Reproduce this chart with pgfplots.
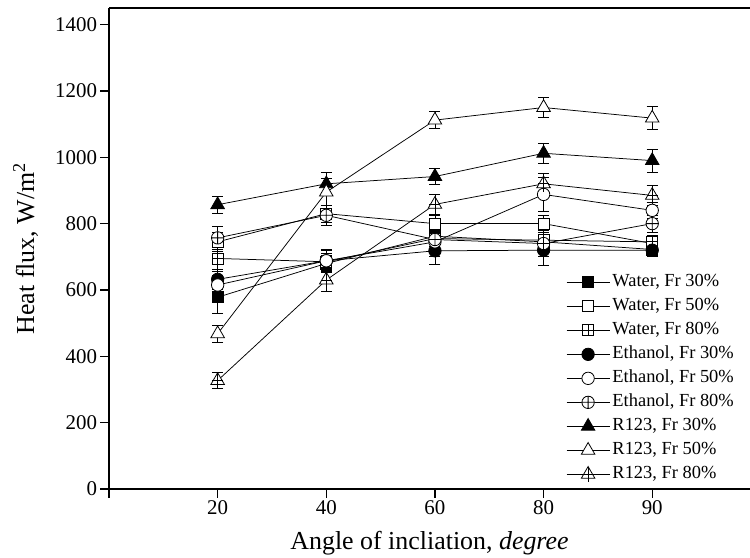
\documentclass[border=0pt]{standalone}
\usepackage{fontspec}
\setmainfont{Liberation Serif}
\usepackage{pgfplots}
\pgfplotsset{compat=1.18}

\pgfdeclareplotmark{sqplus}{%
  \pgfpathrectangle{\pgfpoint{-\pgfplotmarksize}{-\pgfplotmarksize}}{\pgfpoint{2\pgfplotmarksize}{2\pgfplotmarksize}}%
  \pgfusepathqfillstroke
  \pgfpathmoveto{\pgfpoint{-\pgfplotmarksize}{0pt}}\pgfpathlineto{\pgfpoint{\pgfplotmarksize}{0pt}}%
  \pgfpathmoveto{\pgfpoint{0pt}{-\pgfplotmarksize}}\pgfpathlineto{\pgfpoint{0pt}{\pgfplotmarksize}}%
  \pgfusepathqstroke}
\pgfdeclareplotmark{triplus}{%
  \pgfpathmoveto{\pgfpointpolar{90}{\pgfplotmarksize}}%
  \pgfpathlineto{\pgfpointpolar{210}{\pgfplotmarksize}}%
  \pgfpathlineto{\pgfpointpolar{330}{\pgfplotmarksize}}%
  \pgfpathclose
  \pgfusepathqfillstroke
  \pgfpathmoveto{\pgfpoint{0pt}{\pgfplotmarksize}}\pgfpathlineto{\pgfpoint{0pt}{-\pgfplotmarksize}}%
  \pgfpathmoveto{\pgfpoint{-0.7\pgfplotmarksize}{0pt}}\pgfpathlineto{\pgfpoint{0.7\pgfplotmarksize}{0pt}}%
  \pgfusepathqstroke}

\pgfplotsset{
  ser/.style={black, line width=0.75bp,
    error bars/.cd, y dir=both, y explicit,
    error bar style={line width=0.8bp},
    error mark options={line width=0.8bp, mark size=5.5bp, rotate=90},
    /pgfplots/.cd},
  msq/.style={mark options={solid, line width=0.8bp, mark size=5.5bp, fill=#1}},
  mci/.style={mark options={solid, line width=0.8bp, mark size=6.2bp, fill=#1}},
  mtr/.style={mark options={solid, line width=0.8bp, mark size=7.8bp, fill=#1}},
}

\begin{document}
\begin{tikzpicture}
\begin{axis}[
  scale only axis, width=641bp, height=481bp,
  xmin=0, xmax=5.9, ymin=0, ymax=1450,
  axis x line*=box, axis y line*=left,
  xtick={0,1,2,3,4,5}, xticklabels={,20,40,60,80,90},
  ytick={0,200,...,1400},
  xtick pos=bottom, ytick pos=left,
  tick align=outside, major tick length=8.5bp,
  tick style={black, line width=1.2bp},
  axis line style={line width=1.2bp},
  ticklabel style={font=\fontsize{21}{24}\selectfont},
  /pgf/number format/assume math mode=true,
  /pgf/number format/1000 sep={},
  xlabel={Angle of incliation, \textit{degree}},
  ylabel={Heat flux, W/m\textsuperscript{2}},
  label style={font=\fontsize{26}{30}\selectfont},
  xlabel style={at={(axis description cs:0.5,-0.112)}, anchor=center},
  ylabel style={at={(axis description cs:-0.13,0.5)}, anchor=center},
  legend cell align=left,
  legend style={draw=none, fill=none, at={(rel axis cs:0.713,0.455)}, anchor=north west,
    font=\fontsize{18.5}{22}\selectfont, row sep=0pt, inner sep=0pt,
    nodes={inner sep=2.5bp, text height=14bp, text depth=5bp}},
  legend image code/.code={\draw[mark repeat=2,mark phase=2] plot coordinates {(0bp,0bp) (21.5bp,0bp) (43bp,0bp)};},
]
\addplot[ser, mark=square*, msq=black] table[x index=0,y index=1,y error index=2] {
1 578 50
2 680 25
3 762 30
4 745 30
5 722 20
};
\addlegendentry{Water, Fr 30\%}
\addplot[ser, mark=square*, msq=white] table[x index=0,y index=1,y error index=2] {
1 745 30
2 830 25
3 800 25
4 800 25
5 740 20
};
\addlegendentry{Water, Fr 50\%}
\addplot[ser, mark=sqplus, msq=white] table[x index=0,y index=1,y error index=2] {
1 695 40
2 685 25
3 755 30
4 750 30
5 745 20
};
\addlegendentry{Water, Fr 80\%}
\addplot[ser, mark=*, mci=black] table[x index=0,y index=1,y error index=2] {
1 632 30
2 688 30
3 718 40
4 720 45
5 720 20
};
\addlegendentry{Ethanol, Fr 30\%}
\addplot[ser, mark=*, mci=white] table[x index=0,y index=1,y error index=2] {
1 615 30
2 688 35
3 745 45
4 888 50
5 840 25
};
\addlegendentry{Ethanol, Fr 50\%}
\addplot[ser, mark=oplus*, mci=white] table[x index=0,y index=1,y error index=2] {
1 757 35
2 825 30
3 752 40
4 740 40
5 800 25
};
\addlegendentry{Ethanol, Fr 80\%}
\addplot[ser, mark=triangle*, mtr=black] table[x index=0,y index=1,y error index=2] {
1 857 25
2 920 35
3 942 25
4 1012 30
5 990 35
};
\addlegendentry{R123, Fr 30\%}
\addplot[ser, mark=triangle*, mtr=white] table[x index=0,y index=1,y error index=2] {
1 468 25
2 895 40
3 1112 25
4 1150 30
5 1118 35
};
\addlegendentry{R123, Fr 50\%}
\addplot[ser, mark=triplus, mtr=white] table[x index=0,y index=1,y error index=2] {
1 327 25
2 630 35
3 858 30
4 920 30
5 885 30
};
\addlegendentry{R123, Fr 80\%}
\end{axis}
\pgfresetboundingbox
\path[use as bounding box] ([xshift=-109bp,yshift=-68bp]current axis.south west) rectangle ([yshift=8bp]current axis.north east);
\end{tikzpicture}
\end{document}
